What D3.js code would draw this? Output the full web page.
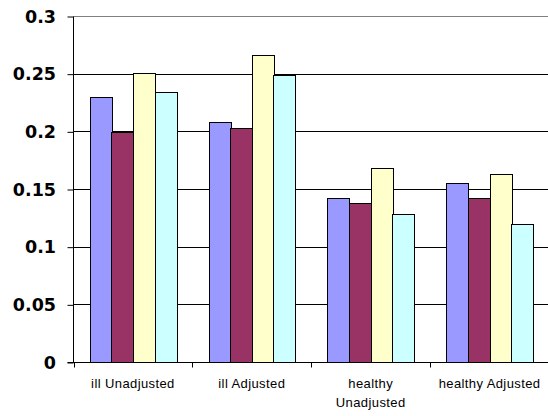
<!DOCTYPE html>
<html><head><meta charset="utf-8">
<script src="https://cdn.jsdelivr.net/npm/d3@7"></script>
<style>body{margin:0;background:#fff;}svg{display:block;}</style>
</head><body>
<script>
const categories = [["ill Unadjusted"], ["ill Adjusted"], ["healthy", "Unadjusted"], ["healthy Adjusted"]];
const seriesNames = ["S1", "S2", "S3", "S4"];
const seriesColors = ["#9999FF", "#993366", "#FFFFCC", "#CCFFFF"];
const s1 = [0.230, 0.208, 0.142, 0.155];
const s2 = [0.199, 0.2025, 0.138, 0.142];
const s3 = [0.251, 0.266, 0.168, 0.163];
const s4 = [0.234, 0.249, 0.128, 0.1195];
const yTicks = [0, 0.05, 0.1, 0.15, 0.2, 0.25, 0.3];
const yTickLabels = ["0", "0.05", "0.1", "0.15", "0.2", "0.25", "0.3"];

const W = 548, H = 416;
const mLeft = 73.5, mRight = 549, mTop = 16.5, mBottom = 362.5;
const svg = d3.select("body").append("svg").attr("width", W).attr("height", H);

const catKeys = categories.map((c, i) => i);
const x0 = d3.scaleBand().domain(catKeys).range([mLeft, mRight]).paddingInner(1.5/5.5).paddingOuter(0.75/5.5);
const x1 = d3.scaleBand().domain(d3.range(4)).range([0, x0.bandwidth()]);
const y = d3.scaleLinear().domain([0, 0.3]).range([mBottom, mTop]);
const series = [s1, s2, s3, s4];

// gridlines
svg.append("g").selectAll("line").data(yTicks.filter(v => v > 0)).join("line")
  .attr("x1", mLeft).attr("x2", W).attr("y1", d => Math.floor(y(d)) + 0.5).attr("y2", d => Math.floor(y(d)) + 0.5)
  .attr("stroke", d => d === 0.3 ? "#808080" : "#000").attr("stroke-width", 1);

// bars
const g = svg.append("g");
catKeys.forEach(ci => {
  series.forEach((s, si) => {
    const x = x0(ci) + x1(si);
    g.append("rect")
      .attr("x", Math.round(x) + 0.5).attr("y", Math.floor(y(s[ci])) + 0.5)
      .attr("width", Math.round(x1.bandwidth()))
      .attr("height", Math.floor(y(0)) - Math.floor(y(s[ci])))
      .attr("fill", seriesColors[si]).attr("stroke", "#000").attr("stroke-width", 1);
  });
});

// y axis
const yAxis = d3.axisLeft(y).tickValues(yTicks).tickFormat((d, i) => yTickLabels[i]).tickSize(6).tickPadding(11.5);
const ya = svg.append("g").attr("transform", `translate(${mLeft},0)`).call(yAxis);
ya.selectAll("text").attr("font-family", "DejaVu Sans, sans-serif").attr("font-size", 17.5)
  .attr("font-weight", "bold").attr("fill", "#000");
ya.selectAll("line,path").attr("stroke", "#000");
ya.select(".domain").attr("d", `M0,${mTop}V${mBottom}`);

// x axis
const step = (mRight - mLeft) / categories.length;
const xg = svg.append("g");
xg.append("line").attr("x1", mLeft - 6).attr("x2", W).attr("y1", Math.floor(y(0)) + 0.5).attr("y2", Math.floor(y(0)) + 0.5).attr("stroke", "#000");
d3.range(categories.length).forEach(i => {
  const xx = Math.round(mLeft + i * step) + 0.5;
  xg.append("line").attr("x1", xx).attr("x2", xx).attr("y1", mBottom).attr("y2", mBottom + 5).attr("stroke", "#000");
});
categories.forEach((lines, i) => {
  const cx = x0(i) + x0.bandwidth() / 2;
  const t = xg.append("text").attr("text-anchor", "middle")
    .attr("font-family", "Liberation Sans, Arial, sans-serif").attr("font-size", 13).attr("letter-spacing", 0.4).attr("fill", "#000");
  lines.forEach((ln, li) => {
    t.append("tspan").attr("x", cx).attr("y", 388 + li * 18.5).text(ln);
  });
});
</script>
</body></html>
